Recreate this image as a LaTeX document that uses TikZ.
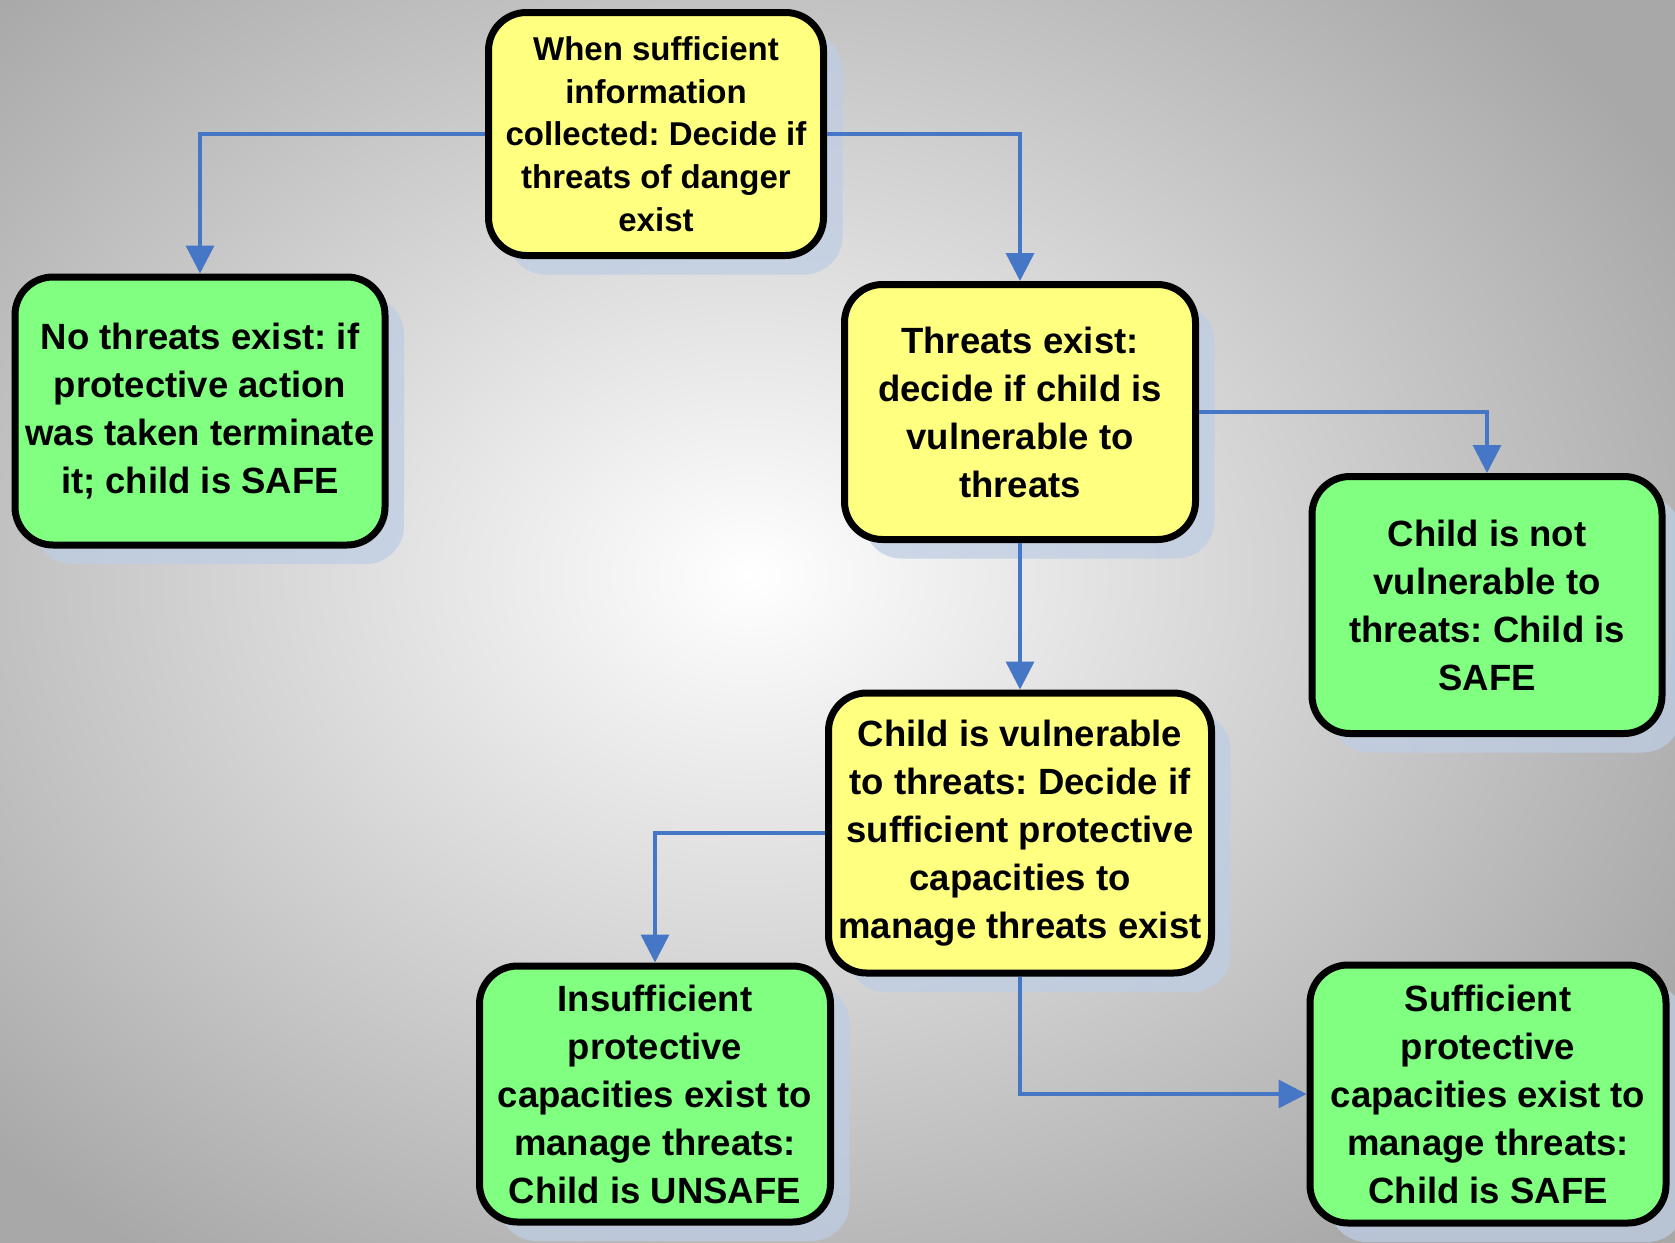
\documentclass[tikz,border=0pt]{standalone}
\usepackage{fontspec}
\setmainfont{Liberation Sans}
\usetikzlibrary{arrows.meta,shadows}
\definecolor{boxyellow}{RGB}{255,255,128}
\definecolor{boxgreen}{RGB}{128,255,128}
\definecolor{linkblue}{RGB}{70,118,198}
\definecolor{shadowblue}{RGB}{190,205,228}
\tikzset{
  box/.style={draw=black, line width=7pt, rounded corners=38pt, inner sep=0pt,
    align=center, font=\bfseries\fontsize{36.5}{48}\selectfont,
    drop shadow={shadow xshift=19pt, shadow yshift=-19pt, fill=shadowblue, opacity=0.75}},
  ybox/.style={box, fill=boxyellow},
  gbox/.style={box, fill=boxgreen},
  link/.style={draw=linkblue, line width=3.5pt, -{Triangle[length=28pt,width=28pt]}}
}
\begin{document}
\frenchspacing
\begin{tikzpicture}[x=1pt,y=-1pt]
\useasboundingbox (0,0) rectangle (1675,1242);
\shade[inner color=white, outer color=gray!68] (-300,-250) rectangle (1800,1400);
\node[ybox, minimum width=335pt, minimum height=243pt, font=\bfseries\fontsize{33}{42.7}\selectfont] (A) at (656,134)
  {When sufficient\\information\\collected: Decide if\\threats of danger\\exist};
\node[gbox, minimum width=370pt, minimum height=268pt] (B) at (200,411)
  {No threats exist: if\\protective action\\was taken terminate\\it; child is SAFE};
\node[ybox, minimum width=351pt, minimum height=255pt] (C) at (1020,412)
  {Threats exist:\\decide if child is\\vulnerable to\\threats};
\node[gbox, minimum width=350pt, minimum height=257pt] (D) at (1487,605)
  {Child is not\\vulnerable to\\threats: Child is\\SAFE};
\node[ybox, minimum width=383pt, minimum height=280pt] (E) at (1020,833)
  {Child is vulnerable\\to threats: Decide if\\sufficient protective\\capacities to\\manage threats exist};
\node[gbox, minimum width=351pt, minimum height=256pt] (F) at (655,1094)
  {Insufficient\\protective\\capacities exist to\\manage threats:\\Child is UNSAFE};
\node[gbox, minimum width=356pt, minimum height=258pt] (G) at (1488,1094)
  {Sufficient\\protective\\capacities exist to\\manage threats:\\Child is SAFE};
\draw[link] (A.west) -| (B.north);
\draw[link] (A.east) -| (C.north);
\draw[link] (C.east) -| (D.north);
\draw[link] (C.south) -- (E.north);
\draw[link] (E.west) -| (F.north);
\draw[link] (E.south) |- (G.west);
\end{tikzpicture}
\end{document}
